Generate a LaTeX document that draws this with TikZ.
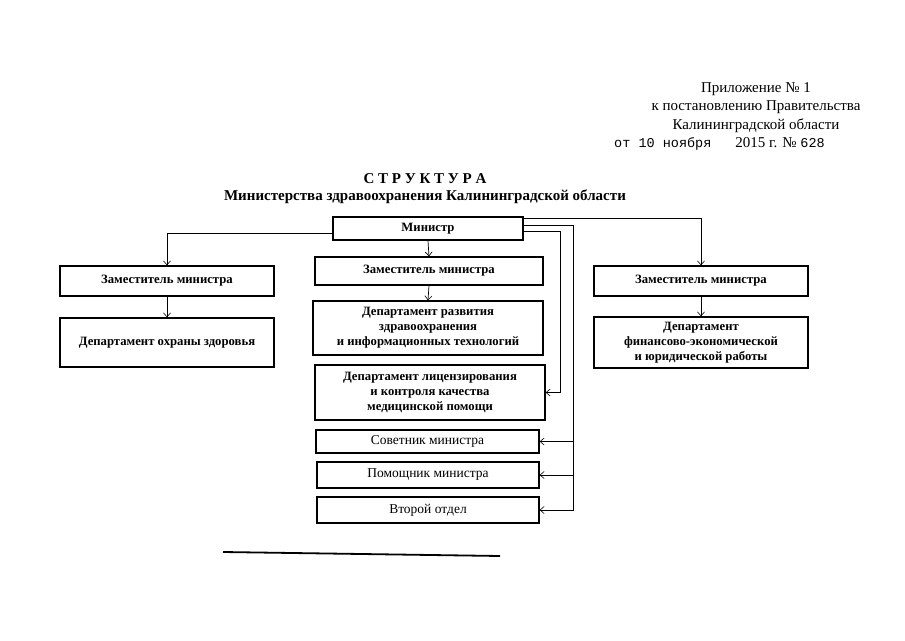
\documentclass[tikz,border=0pt]{standalone}
\usepackage{fontspec}
\setmainfont{Liberation Serif}
\newfontfamily\monof{Liberation Mono}
\usetikzlibrary{arrows.meta,calc}
\begin{document}
\begin{tikzpicture}[x=1pt,y=-1pt,
  box/.style={draw=black, line width=1.3pt, inner sep=0pt, align=center, anchor=center,
    font=\fontsize{12.7}{15}\selectfont\bfseries},
  rbox/.style={box, font=\fontsize{13.5}{15}\selectfont},
  conn/.style={line width=0.7pt, -{Straight Barb[length=4pt,width=7pt,line width=0.6pt]}},
  hdr/.style={anchor=base, inner sep=0pt, font=\fontsize{15}{18}\selectfont},
  ttl/.style={anchor=base, inner sep=0pt, font=\fontsize{15}{17}\selectfont\bfseries}]
\useasboundingbox (0,0) rectangle (905,640);
\fill[white] (0,0) rectangle (905,640);

% header
\node[hdr] (h1) at (756,92) {Приложение № 1};
\node[hdr] (h2) at (756,110) {к постановлению Правительства};
\node[hdr] (h3) at (756,129) {Калининградской области};
\node[hdr, anchor=base west] (h4) at (614,147) {{\monof\fontsize{13.5}{15}\selectfont от 10 ноября}\hspace{1.6em}2015 г. № {\monof\fontsize{13.5}{15}\selectfont 628}};

% title
\node[ttl] (t1) at (425,183) {С Т Р У К Т У Р А};
\node[ttl] (t2) at (425,200) {Министерства здравоохранения Калининградской области};

% boxes
\node[box, minimum width=190pt, minimum height=23pt] (min) at (428,228.5) {Министр};
\node[box, minimum width=228pt, minimum height=28pt] (mz) at (429,271) {Заместитель министра};
\node[box, minimum width=230pt, minimum height=54pt] (dr) at (428,328) {Департамент развития\\здравоохранения\\и информационных технологий};
\node[box, minimum width=230pt, minimum height=55pt] (dl) at (430,392.5) {Департамент лицензирования\\и контроля качества\\медицинской помощи};
\node[rbox, minimum width=223pt, minimum height=23pt] (sov) at (427.5,441.5) {Советник министра};
\node[rbox, minimum width=222pt, minimum height=26pt] (pom) at (428,475) {Помощник министра};
\node[rbox, minimum width=222pt, minimum height=26pt] (vt) at (428,510) {Второй отдел};

\node[box, minimum width=214pt, minimum height=30pt] (lz) at (167,281) {Заместитель министра};
\node[box, minimum width=214pt, minimum height=49pt] (ld) at (167,342.5) {Департамент охраны здоровья};
\node[box, minimum width=214pt, minimum height=30pt] (rz) at (701,281) {Заместитель министра};
\node[box, minimum width=214pt, minimum height=51pt] (rd) at (701,342.5) {Департамент\\финансово-экономической\\и юридической работы};

% bus coordinates
\coordinate (busA) at (573,0);
\coordinate (busB) at (560,0);

% connectors
\draw[conn] (min.south) -- (mz.north);
\draw[conn] (mz.south) -- (dr.north);
\draw[conn] ($(min.south west)+(0,-7)$) -| (lz.north);
\draw[conn] (lz.south) -- (ld.north);
\draw[conn] ($(min.north east)+(0,2)$) -| (rz.north);
\draw[conn] (rz.south) -- (rd.north);
\draw[conn] ($(min.north east)+(0,15)$) -| (dl.east -| busB) -- (dl.east);
\draw[conn] ($(min.north east)+(0,9)$) -| (vt.east -| busA) -- (vt.east);
\draw[conn] (sov.east -| busA) -- (sov.east);
\draw[conn] (pom.east -| busA) -- (pom.east);

% rule
\coordinate (r1) at (223,552);
\coordinate (r2) at (500,556);
\draw[line width=1.8pt] (r1) -- (r2);
\end{tikzpicture}
\end{document}
